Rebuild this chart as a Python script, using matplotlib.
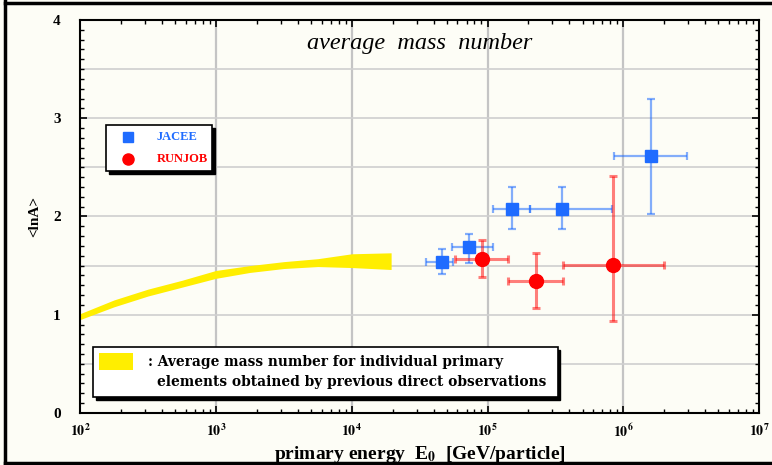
import matplotlib
matplotlib.use("Agg")
import matplotlib.pyplot as plt
import numpy as np
from matplotlib.patches import Rectangle
from matplotlib.lines import Line2D
from matplotlib.ticker import FixedLocator, NullFormatter

plt.rcParams['font.family'] = ['Liberation Serif', 'DejaVu Serif']
plt.rcParams['mathtext.fontset'] = 'stix'

# JACEE points (energy GeV, <lnA>) with asymmetric errors
jacee_e = [4.6e4, 7.3e4, 1.5e5, 3.5e5, 1.6e6]
jacee_lna = [1.54, 1.69, 2.08, 2.08, 2.62]
jacee_e_lo = [3.5e4, 5.5e4, 1.1e5, 2.05e5, 8.5e5]
jacee_e_hi = [5.6e4, 1.1e5, 2.05e5, 8.3e5, 2.95e6]
jacee_lna_lo = [1.41, 1.53, 1.87, 1.87, 2.02]
jacee_lna_hi = [1.67, 1.82, 2.30, 2.30, 3.20]

# RUNJOB points
runjob_e = [9.1e4, 2.26e5, 8.4e5]
runjob_lna = [1.57, 1.34, 1.51]
runjob_e_lo = [5.8e4, 1.42e5, 3.6e5]
runjob_e_hi = [1.42e5, 3.6e5, 2.0e6]
runjob_lna_lo = [1.38, 1.07, 0.94]
runjob_lna_hi = [1.76, 1.63, 2.41]

# yellow band from previous direct observations
band_loge = [2.0, 2.25, 2.5, 2.75, 3.0, 3.25, 3.5, 3.75, 4.0, 4.29]
band_upper = [1.01, 1.15, 1.26, 1.35, 1.45, 1.50, 1.54, 1.57, 1.62, 1.63]
band_lower = [0.95, 1.08, 1.19, 1.28, 1.37, 1.43, 1.47, 1.49, 1.48, 1.46]

xticks = [1e2, 1e3, 1e4, 1e5, 1e6, 1e7]
xtick_labels = [r'$\mathbf{10^{%d}}$' % p for p in range(2, 8)]
yticks = [0, 1, 2, 3, 4]

fig = plt.figure(figsize=(7.72, 4.65), dpi=100)
fig.patch.set_facecolor('#fdfdf6')
ax = fig.add_axes([0.1036, 0.112, 0.880, 0.845])
ax.set_facecolor('#fdfdf6')

ax.set_xscale('log')
ax.set_xlim(1e2, 1e7)
ax.set_ylim(0, 4)

# grid
for xv in xticks[1:-1]:
    ax.axvline(xv, color='#c4c4c4', lw=1.6, zorder=0)
for yv in np.arange(0.5, 4.0, 0.5):
    ax.axhline(yv, color='#cfcfcf', lw=1.2, zorder=0)

# band
band_e = [10 ** v for v in band_loge]
ax.fill_between(band_e, band_lower, band_upper, color='#ffee00', lw=0, zorder=2)

jacee_c = '#1f6cff'
runjob_c = '#ff0000'

jx = [np.array(jacee_e) - np.array(jacee_e_lo), np.array(jacee_e_hi) - np.array(jacee_e)]
jy = [np.array(jacee_lna) - np.array(jacee_lna_lo), np.array(jacee_lna_hi) - np.array(jacee_lna)]
ax.errorbar(jacee_e, jacee_lna, xerr=jx, yerr=jy, fmt='none', ecolor=jacee_c,
            alpha=0.55, elinewidth=1.6, capsize=3, capthick=1.6, zorder=3)
ax.plot(jacee_e, jacee_lna, 's', color=jacee_c, ms=9, zorder=5)

rx = [np.array(runjob_e) - np.array(runjob_e_lo), np.array(runjob_e_hi) - np.array(runjob_e)]
ry = [np.array(runjob_lna) - np.array(runjob_lna_lo), np.array(runjob_lna_hi) - np.array(runjob_lna)]
ax.errorbar(runjob_e, runjob_lna, xerr=rx, yerr=ry, fmt='none', ecolor=runjob_c,
            alpha=0.5, elinewidth=2.2, capsize=3, capthick=2.2, zorder=3)
ax.plot(runjob_e, runjob_lna, 'o', color=runjob_c, ms=10, zorder=5)

# ticks
ax.xaxis.set_major_locator(FixedLocator(xticks))
ax.set_xticklabels(xtick_labels, fontsize=10)
ax.set_yticks(yticks)
ax.set_yticklabels([str(v) for v in yticks], fontsize=11, fontweight='bold')
ax.yaxis.set_minor_locator(FixedLocator(np.arange(0, 4.01, 0.1)))
ax.tick_params(which='both', direction='in', top=True, right=True, color='black')
ax.tick_params(which='major', length=5, width=1.2, pad=7)
ax.tick_params(axis='y', which='major', pad=14)
ax.tick_params(which='minor', length=3, width=1.0)
ax.xaxis.set_minor_formatter(NullFormatter())
for s in ax.spines.values():
    s.set_linewidth(1.5)

ax.set_xlabel(r'primary energy  E$_{\mathbf{0}}$  [GeV/particle]', fontsize=14, fontweight='bold',
              labelpad=3)
ax.set_ylabel('<lnA>', fontsize=11, fontweight='bold', labelpad=8)
ax.text(0.5, 0.94, 'average  mass  number', transform=ax.transAxes, ha='center', va='center',
        fontsize=17.5, style='italic')

# small legend box with shadow
def boxed(x0, y0, w, h):
    ax.add_patch(Rectangle((x0 + 0.004, y0 - 0.008), w, h, transform=ax.transAxes,
                           facecolor='black', edgecolor='black', zorder=6))
    ax.add_patch(Rectangle((x0, y0), w, h, transform=ax.transAxes,
                           facecolor='white', edgecolor='black', lw=1.2, zorder=7))

boxed(0.039, 0.615, 0.156, 0.118)
ax.plot([0.071], [0.702], 's', color=jacee_c, ms=7, transform=ax.transAxes, zorder=8)
ax.plot([0.071], [0.645], 'o', color=runjob_c, ms=8, transform=ax.transAxes, zorder=8)
ax.text(0.113, 0.702, 'JACEE', color=jacee_c, fontsize=9, fontweight='bold',
        transform=ax.transAxes, va='center', zorder=8)
ax.text(0.113, 0.645, 'RUNJOB', color=runjob_c, fontsize=9, fontweight='bold',
        transform=ax.transAxes, va='center', zorder=8)

# band legend
boxed(0.019, 0.04, 0.684, 0.128)
ax.add_patch(Rectangle((0.028, 0.11), 0.05, 0.043, transform=ax.transAxes,
                       facecolor='#ffee00', lw=0, zorder=8))
ax.text(0.1, 0.13, ': Average mass number for individual primary', fontsize=9.9,
        fontweight='bold', family='DejaVu Serif', transform=ax.transAxes, va='center', zorder=8)
ax.text(0.113, 0.078, 'elements obtained by previous direct observations', fontsize=9.9,
        fontweight='bold', family='DejaVu Serif', transform=ax.transAxes, va='center', zorder=8)

# outer frame lines of the picture
fig.add_artist(Line2D([0.007, 0.007], [0.0, 1.0], color='black', lw=2.5, transform=fig.transFigure))
fig.add_artist(Line2D([0.007, 1.0], [0.994, 0.994], color='black', lw=2.5, transform=fig.transFigure))
fig.add_artist(Line2D([0.007, 1.0], [0.004, 0.004], color='black', lw=2.5, transform=fig.transFigure))

fig.savefig('out.png', dpi=100, facecolor=fig.get_facecolor())
